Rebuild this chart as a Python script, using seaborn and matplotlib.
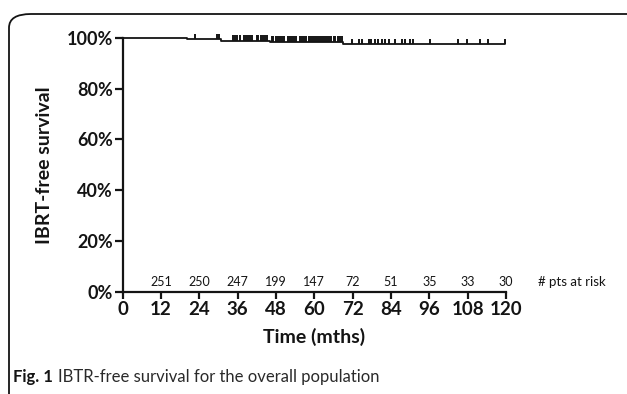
import numpy as np
import seaborn as sb
from matplotlib import pyplot as plt
from matplotlib.patches import FancyBboxPatch

# KM curve (months, survival fraction)
event_times = [0, 20.2, 30.8, 46.2, 68.9, 119.8]
survival = [1.0, 0.996, 0.990, 0.986, 0.976, 0.976]

# censored patients (months)
censor_times = [22.7, 29.5, 30.3,
                34.6, 35.2, 35.9, 36.6, 38.0, 38.6, 39.3, 40.0, 40.6,
                41.9, 42.5, 43.2, 43.9, 44.5, 45.2,
                46.6, 47.2, 47.9, 48.5, 49.2, 49.8, 50.5, 51.6, 52.3, 52.9,
                53.6, 54.2, 55.6, 56.2, 56.9, 57.5, 58.2, 58.8, 59.5, 60.1,
                60.8, 61.4, 62.1, 62.7, 63.4, 64.0, 64.7, 65.3, 66.0, 66.6,
                67.3, 67.9, 68.6,
                71.8, 74.1, 74.9, 77.0, 77.8, 78.9, 79.9, 81.2, 82.2, 83.3,
                85.4, 87.5, 88.5, 90.1, 90.8, 96.3, 105.1, 107.9, 112.0,
                114.5, 119.8]

risk_months = [12, 24, 36, 48, 60, 72, 84, 96, 108, 120]
at_risk = [251, 250, 247, 199, 147, 72, 51, 35, 33, 30]

ink = '#141414'
lw_ax = 1.6

sb.set_style('ticks')
plt.rcParams['font.family'] = ['Lato', 'DejaVu Sans']

fig = plt.figure(figsize=[6.27, 3.94], dpi=100)
ax = fig.add_axes([0.1957, 0.2596, 0.6113, 0.644])

sb.lineplot(x=event_times, y=survival, drawstyle='steps-post', color=ink,
            lw=1.3, estimator=None, ax=ax, clip_on=False)

# censor marks: short upward ticks on the curve
idx = np.searchsorted(event_times, censor_times, side='right') - 1
lev = np.array(survival)[idx]
ax.vlines(censor_times, lev, lev + 0.021, color=ink, lw=1.4, clip_on=False)

ax.set_xlim(0, 120)
ax.set_ylim(0, 1.0)
ax.set_xticks(np.arange(0, 121, 12))
ax.set_yticks(np.arange(0, 1.01, 0.2))
ax.set_yticklabels(['%d%%' % v for v in range(0, 101, 20)])
for s in ['top', 'right']:
    ax.spines[s].set_visible(False)
for s in ['left', 'bottom']:
    ax.spines[s].set_linewidth(lw_ax)
    ax.spines[s].set_color(ink)
ax.tick_params(axis='both', width=lw_ax, color=ink, labelcolor=ink)
ax.tick_params(axis='y', length=6, pad=1, labelsize=13)
ax.tick_params(axis='x', length=5, pad=2, labelsize=13.5)
for t in ax.get_xticklabels() + ax.get_yticklabels():
    t.set_fontweight('bold')

ax.set_xlabel('Time (mths)', fontsize=14, fontweight='bold', color=ink,
              va='center')
ax.xaxis.set_label_coords(0.5, -0.178)
ax.set_ylabel('IBRT-free survival', fontsize=14, fontweight='bold',
              color=ink, va='center')
ax.yaxis.set_label_coords(-0.203, 0.5)

for m, n in zip(risk_months, at_risk):
    ax.text(m, 0.039, str(n), ha='center', va='center', fontsize=9,
            color=ink)
ax.text(130.0, 0.039, '# pts at risk', ha='left', va='center', fontsize=9.5,
        color=ink, clip_on=False)

# caption
cap = fig.text(0.021, 0.043, 'Fig. 1', fontsize=12, fontweight='bold',
               color=ink, va='center')
fig.canvas.draw()
bb = cap.get_window_extent()
fig.text((bb.x1 + 5) / fig.bbox.width, 0.043,
         'IBTR-free survival for the overall population', fontsize=12,
         fontweight='normal', color='#2a2a2a', va='center')

# frame around the figure panel
frame = FancyBboxPatch((9 / 627, -0.2), 1.2, 1.2 - 14 / 394,
                       boxstyle='round,pad=0,rounding_size=0.035',
                       transform=fig.transFigure, fill=False,
                       ec=ink, lw=1.3, clip_on=False)
fig.patches.append(frame)

fig.savefig('out.png', dpi=100)
